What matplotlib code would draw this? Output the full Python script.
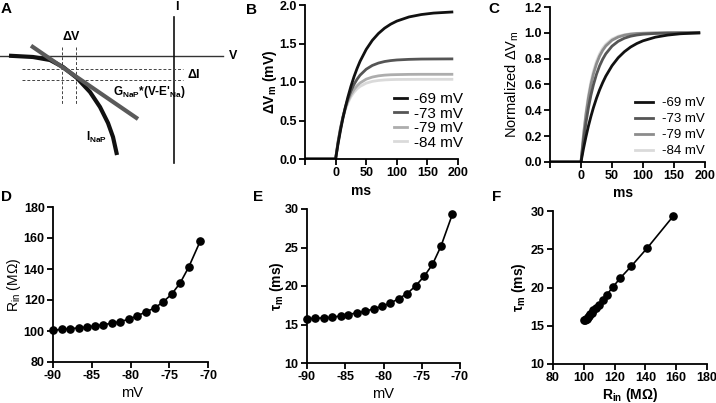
import matplotlib as mpl
import matplotlib.pyplot as plt
import numpy as np

mpl.rcParams['font.family'] = ['Liberation Sans', 'DejaVu Sans']
mpl.rcParams['mathtext.default'] = 'regular'
mpl.rcParams['axes.unicode_minus'] = False
mpl.rcParams['axes.spines.top'] = False
mpl.rcParams['axes.spines.right'] = False
mpl.rcParams['axes.linewidth'] = 1.3
mpl.rcParams['xtick.major.size'] = 4
mpl.rcParams['ytick.major.size'] = 4
mpl.rcParams['xtick.major.width'] = 1.3
mpl.rcParams['ytick.major.width'] = 1.3
mpl.rcParams['xtick.major.pad'] = 2
mpl.rcParams['ytick.major.pad'] = 2
mpl.rcParams['xtick.labelsize'] = 9
mpl.rcParams['ytick.labelsize'] = 9

# ---- data ----
# schematic (panel A), in pixel units of the panel
inap_v = [9, 33, 50, 63, 77, 90, 100, 108, 113, 117]
inap_i = [55.7, 57, 60, 67, 78, 92, 107, 123, 137, 155]
tangent_v = [31, 138]
tangent_i = [45.7, 119]

# step responses (panel B)
t_ms = [-50, 0, 4, 8, 12, 16, 20, 25, 30, 35, 40, 50, 60, 70, 80, 90, 100,
        120, 140, 160, 190]
dv_69 = [0, 0, 0.197, 0.373, 0.532, 0.674, 0.802, 0.943, 1.067, 1.174, 1.269,
         1.423, 1.541, 1.630, 1.699, 1.751, 1.791, 1.845, 1.876, 1.895, 1.909]
dv_73 = [0, 0, 0.216, 0.396, 0.547, 0.672, 0.776, 0.883, 0.968, 1.035, 1.089,
         1.166, 1.215, 1.246, 1.266, 1.278, 1.286, 1.294, 1.298, 1.299, 1.300]
dv_79 = [0, 0, 0.225, 0.404, 0.546, 0.659, 0.749, 0.836, 0.902, 0.951, 0.988,
         1.037, 1.064, 1.080, 1.089, 1.094, 1.096, 1.099, 1.100, 1.100, 1.100]
dv_84 = [0, 0, 0.223, 0.398, 0.535, 0.643, 0.727, 0.808, 0.867, 0.911, 0.943,
         0.985, 1.008, 1.020, 1.027, 1.031, 1.033, 1.034, 1.035, 1.035, 1.035]
trace_labels = ['-69 mV', '-73 mV', '-79 mV', '-84 mV']

# Rin and tau vs holding potential (panels D, E, F)
vm = [-90, -88.9, -87.8, -86.7, -85.6, -84.6, -83.5, -82.4, -81.3, -80.2,
      -79.1, -78.0, -76.9, -75.8, -74.7, -73.6, -72.5, -71.0]
rin = [100.4, 101.1, 101.5, 102.0, 102.6, 103.3, 104.1, 105.0, 106.1, 107.6,
       109.8, 112.4, 114.8, 118.7, 123.7, 130.9, 141.1, 158.0]
tau = [15.73, 15.81, 15.86, 15.94, 16.12, 16.29, 16.51, 16.72, 17.03, 17.38,
       17.77, 18.37, 19.02, 20.02, 21.24, 22.80, 25.14, 29.31]

colors_b = ['#111111', '#555555', '#adadad', '#dadada']
colors_c = ['#111111', '#555555', '#8c8c8c', '#dadada']

fig = plt.figure(figsize=(7.16, 4.03), dpi=100)
W, H = 716.0, 403.0

def add_ax(left, top, right, bottom):
    return fig.add_axes([left / W, 1 - bottom / H, (right - left) / W, (bottom - top) / H])

# ---------- A: schematic ----------
axA = fig.add_axes([0, 1 - 175 / H, 240 / W, 175 / H])
axA.set_xlim(0, 240)
axA.set_ylim(175, 0)
axA.axis('off')
axA.plot([0, 223], [55.7, 55.7], color='#333333', lw=1.0)
axA.plot([174.3, 174.3], [17, 163], color='#111111', lw=1.2)
for y in [69.3, 80]:
    axA.plot([22, 183], [y, y], color='#444444', lw=0.7, ls=(0, (3, 2)))
for x in [62.3, 76]:
    axA.plot([x, x], [47, 105], color='#444444', lw=0.7, ls=(0, (3, 2)))
axA.plot(inap_v, inap_i, color='#111111', lw=3.0, solid_capstyle='butt')
axA.plot(tangent_v, tangent_i, color='#5a5a5a', lw=3.0, solid_capstyle='butt')
axA.text(233, 56, 'V', fontsize=9, fontweight='bold', ha='center', va='center')
axA.text(177, 7, 'I', fontsize=9, fontweight='bold', ha='center', va='center')
axA.text(70.7, 37, 'ΔV', fontsize=9, fontweight='bold', ha='center', va='center')
axA.text(194, 75, 'ΔI', fontsize=9, fontweight='bold', ha='center', va='center')
axA.text(113, 92, "G$_{NaP}$*(V-E'$_{Na}$)", fontsize=8.5, fontweight='bold',
         ha='left', va='center')
axA.text(86, 137, 'I$_{NaP}$', fontsize=8.5, fontweight='bold', ha='left', va='center')

# ---------- B ----------
axB = add_ax(305, 5, 458, 159)
for vals, c, l in zip([dv_69, dv_73, dv_79, dv_84][::-1], colors_b[::-1], trace_labels[::-1]):
    axB.plot(t_ms, vals, color=c, lw=2.0, label=l)
axB.set_xlim(-50, 200)
axB.set_ylim(0, 2.0)
axB.set_xticks([-50, 0, 50, 100, 150, 200])
axB.set_xticklabels(['', '0', '50', '100', '150', '200'])
axB.set_yticks([0, 0.5, 1.0, 1.5, 2.0])
axB.yaxis.set_major_formatter(mpl.ticker.FormatStrFormatter('%.1f'))
axB.set_xlabel('ms', fontsize=10, fontweight='bold')
axB.xaxis.set_label_coords(0.366, -0.162)
axB.set_ylabel('ΔV$_m$ (mV)', fontsize=10, fontweight='bold')
axB.yaxis.set_label_coords(-0.168, 0.5)
h, l = axB.get_legend_handles_labels()
axB.legend(h[::-1], l[::-1], loc='lower right', bbox_to_anchor=(1.03, 0.06),
           frameon=False, fontsize=11, handlelength=0.9, handletextpad=0.4,
           labelspacing=0.03, borderpad=0, borderaxespad=0)

# ---------- C ----------
axC = add_ax(550, 7, 705, 162)
for vals, c, l in zip([dv_69, dv_73, dv_79, dv_84][::-1], colors_c[::-1], trace_labels[::-1]):
    v = np.array(vals)
    axC.plot(t_ms, v / v[-1], color=c, lw=2.0, label=l)
axC.set_xlim(-50, 200)
axC.set_ylim(0, 1.2)
axC.set_xticks([-50, 0, 50, 100, 150, 200])
axC.set_xticklabels(['', '0', '50', '100', '150', '200'])
axC.set_yticks([0, 0.2, 0.4, 0.6, 0.8, 1.0, 1.2])
axC.yaxis.set_major_formatter(mpl.ticker.FormatStrFormatter('%.1f'))
axC.set_xlabel('ms', fontsize=10, fontweight='bold')
axC.xaxis.set_label_coords(0.47, -0.155)
axC.set_ylabel('Normalized ΔV$_m$', fontsize=10.5)
axC.yaxis.set_label_coords(-0.19, 0.5)
h, l = axC.get_legend_handles_labels()
axC.legend(h[::-1], l[::-1], loc='lower right', bbox_to_anchor=(1.0, 0.03),
           frameon=False, fontsize=9.5, handlelength=1.4, handletextpad=0.7,
           labelspacing=0.29, borderpad=0, borderaxespad=0)

# ---------- D ----------
axD = add_ax(53, 207, 208, 362)
axD.plot(vm, rin, color='black', lw=1.2, marker='o', ms=5.2, clip_on=False)
axD.set_xlim(-90, -70)
axD.set_ylim(80, 180)
axD.set_xticks([-90, -85, -80, -75, -70])
axD.set_yticks([80, 100, 120, 140, 160, 180])
axD.set_xlabel('mV', fontsize=10.5)
axD.xaxis.set_label_coords(0.51, -0.155)
axD.set_ylabel('R$_{in}$ (MΩ)', fontsize=10)
axD.yaxis.set_label_coords(-0.195, 0.5)

# ---------- E ----------
axE = add_ax(307, 209, 460, 363)
axE.plot(vm, tau, color='black', lw=1.2, marker='o', ms=5.2, clip_on=False)
axE.set_xlim(-90, -70)
axE.set_ylim(10, 30)
axE.set_xticks([-90, -85, -80, -75, -70])
axE.set_yticks([10, 15, 20, 25, 30])
axE.set_xlabel('mV', fontsize=10.5)
axE.xaxis.set_label_coords(0.5, -0.156)
axE.set_ylabel('τ$_m$ (ms)', fontsize=10, fontweight='bold')
axE.yaxis.set_label_coords(-0.14, 0.5)

# ---------- F ----------
axF = add_ax(553, 211, 707, 364)
axF.plot(rin, tau, color='black', lw=1.2, marker='o', ms=5.2, clip_on=False)
axF.set_xlim(80, 180)
axF.set_ylim(10, 30)
axF.set_xticks([80, 100, 120, 140, 160, 180])
axF.set_yticks([10, 15, 20, 25, 30])
axF.set_xlabel('R$_{in}$ (MΩ)', fontsize=10, fontweight='bold')
axF.xaxis.set_label_coords(0.5, -0.145)
axF.set_ylabel('τ$_m$ (ms)', fontsize=10, fontweight='bold')
axF.yaxis.set_label_coords(-0.16, 0.5)

for ax in [axB, axC, axD, axE, axF]:
    for lab in ax.get_xticklabels() + ax.get_yticklabels():
        lab.set_fontweight('bold')

# panel letters
for letter, x, y in [('A', 1, 9), ('B', 246, 10), ('C', 488, 9),
                     ('D', 1, 197), ('E', 253, 197), ('F', 492, 197)]:
    fig.text(x / W, 1 - y / H, letter, fontsize=11, fontweight='bold',
             ha='left', va='center')

fig.savefig('out.png', dpi=100)
